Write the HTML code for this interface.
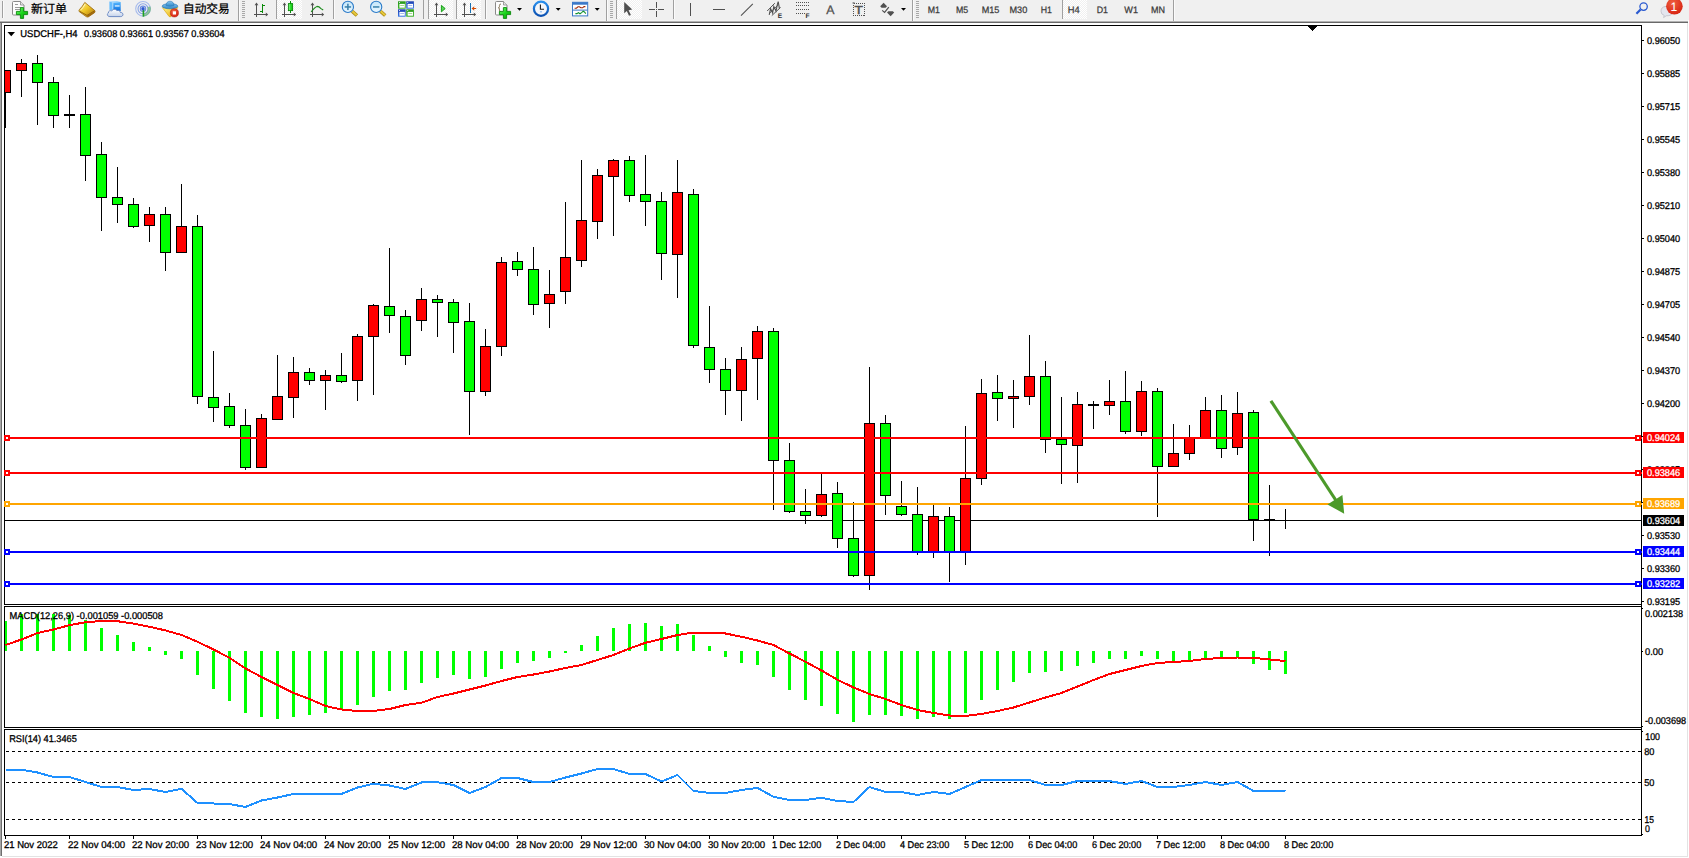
<!DOCTYPE html>
<html><head><meta charset="utf-8"><title>USDCHF-,H4</title>
<style>html,body{margin:0;padding:0;background:#fff;overflow:hidden}body{width:1689px;height:858px;position:relative}text{white-space:pre}</style>
</head><body>
<svg width="1689" height="858" viewBox="0 0 1689 858" font-family="'Liberation Sans','Noto Sans CJK SC',sans-serif" style="position:absolute;left:0;top:0;display:block;text-rendering:geometricPrecision">
<defs>
<linearGradient id="gPlus" x1="0" y1="0" x2="1" y2="1"><stop offset="0" stop-color="#7dff7d"/><stop offset="0.5" stop-color="#19d419"/><stop offset="1" stop-color="#0a9a0a"/></linearGradient>
<linearGradient id="gGold" x1="0" y1="0" x2="1" y2="1"><stop offset="0" stop-color="#fff1a0"/><stop offset="0.45" stop-color="#f0c828"/><stop offset="1" stop-color="#a86a08"/></linearGradient>
<linearGradient id="gBlue" x1="0" y1="0" x2="0" y2="1"><stop offset="0" stop-color="#58b8ff"/><stop offset="1" stop-color="#0a6fe0"/></linearGradient>
<linearGradient id="gCloud" x1="0" y1="0" x2="0" y2="1"><stop offset="0" stop-color="#ffffff"/><stop offset="1" stop-color="#c4d2ea"/></linearGradient>
<linearGradient id="gLens" x1="0" y1="0" x2="0" y2="1"><stop offset="0" stop-color="#c4e6fa"/><stop offset="1" stop-color="#eaf7ff"/></linearGradient>
<linearGradient id="gGreenT" x1="0" y1="0" x2="0" y2="1"><stop offset="0" stop-color="#2a9a1a"/><stop offset="1" stop-color="#3cb42a"/></linearGradient>
<linearGradient id="gBlueT" x1="0" y1="0" x2="0" y2="1"><stop offset="0" stop-color="#1c3fb0"/><stop offset="1" stop-color="#3a78e6"/></linearGradient>
<radialGradient id="gRed" cx="0.4" cy="0.3" r="0.8"><stop offset="0" stop-color="#f06040"/><stop offset="1" stop-color="#d41c0c"/></radialGradient>
<linearGradient id="gClock" x1="0" y1="0" x2="0" y2="1"><stop offset="0" stop-color="#2a90ee"/><stop offset="1" stop-color="#0a4fb0"/></linearGradient>
<linearGradient id="gCandle" x1="0" y1="0" x2="1" y2="0"><stop offset="0" stop-color="#9aff9a"/><stop offset="0.5" stop-color="#30e030"/><stop offset="1" stop-color="#10c010"/></linearGradient>
<linearGradient id="gHat" x1="0" y1="0" x2="0" y2="1"><stop offset="0" stop-color="#8cc8ee"/><stop offset="1" stop-color="#2a84c8"/></linearGradient>
<linearGradient id="gCone" x1="0" y1="0" x2="1" y2="1"><stop offset="0" stop-color="#fff48a"/><stop offset="1" stop-color="#e6a800"/></linearGradient>
<pattern id="pSel" width="2" height="2" patternUnits="userSpaceOnUse"><rect width="2" height="2" fill="#f0f0f0"/><rect width="1" height="1" fill="#fff"/><rect x="1" y="1" width="1" height="1" fill="#fff"/></pattern>
</defs>
<rect x="0" y="0" width="1689" height="858" fill="#fff"/>
<g id="toolbar">
<rect x="0" y="0" width="1689" height="20" fill="#f0f0f0"/>
<rect x="0" y="20" width="1688" height="1" fill="#f4f4f4"/>
<rect x="0" y="21" width="1688" height="1" fill="#b2b2b2"/>
<rect x="0" y="22" width="1688" height="1" fill="#696969"/>
<rect x="2" y="1" width="1" height="17" fill="#a0a0a0" shape-rendering="crispEdges"/><rect x="3" y="1" width="1" height="17" fill="#fbfbfb" shape-rendering="crispEdges"/>
<path d="M13.5,1.5h7.0l3.5,3.5v9.0q0,1 -1,1h-9.5q-1,0 -1,-1v-11.5q0,-1 1,-1z" fill="#fdfdfd" stroke="#8a8a8a" stroke-width="1"/><path d="M20.5,1.5v3.5h3.5" fill="#e4e4e4" stroke="#8a8a8a" stroke-width="0.8"/>
<g fill="#9a9a9a" shape-rendering="crispEdges"><rect x="15" y="4" width="3" height="1"/><rect x="15" y="7" width="6" height="1"/><rect x="15" y="9" width="5" height="1"/></g>
<path d="M20.4,7.6h3.2v3.8h4v3.2h-4v3.8h-3.2v-3.8h-4v-3.2h4z" fill="url(#gPlus)" stroke="#0a8a0a" stroke-width="0.9" stroke-linejoin="round"/>
<text x="31" y="13" font-size="12" fill="#000" stroke="#000" stroke-width="0.25">新订单</text>
<path d="M84.8,2.4 L94.8,10.6 Q95.4,11.6 94.6,12.6 L88.4,16.8 Q87.2,17.3 86.2,16.6 L79.2,11.6 Q78.6,10.6 79.4,9.6 Q82.4,6.6 84.8,2.4z" fill="url(#gGold)" stroke="#9a6608" stroke-width="0.8"/>
<path d="M79.6,11.2 L87,15.4 L94.6,10.8" fill="none" stroke="#8a5a08" stroke-width="0.9"/>
<path d="M87,15.6 L94.8,11.2 L94.6,12.8 L88,16.9z" fill="#a06a10"/>
<path d="M85.2,4 Q83.4,7.6 81,9.8" fill="none" stroke="#fff6c0" stroke-width="1"/>
<path d="M109.4,1.6 L112.9,2.4 L112.9,11 L109.4,9.8z" fill="#66bcff"/>
<path d="M112.9,2.4 L120.7,1.9 L120.7,11 L112.9,11z" fill="url(#gBlue)"/>
<path d="M109.4,1.6 L117,1.1 L120.7,1.9 L112.9,2.4z" fill="#9ad4ff"/>
<path d="M112.9,2.6 V11" stroke="#d8f0ff" stroke-width="0.7"/>
<rect x="114.8" y="5.3" width="4.8" height="1.3" fill="#e2f3ff"/>
<path d="M110,16.6 C107.4,16.6 106.6,14.2 108.3,13 C108.1,11 110.4,10.1 111.7,11 C112.5,9.1 115.7,8.7 116.9,10.6 C118.5,9.8 120.3,10.8 120.3,12.4 C122.5,12.4 123.5,14 122.7,15.4 C122.3,16.4 121.3,16.6 120.4,16.6 Z" fill="url(#gCloud)" stroke="#5f7fbe" stroke-width="0.9"/>
<g fill="none"><circle cx="143" cy="8.8" r="7.3" stroke="#a8bcec" stroke-width="1.1"/><circle cx="143" cy="8.8" r="5" stroke="#88a4e6" stroke-width="1.1"/><circle cx="143" cy="8.8" r="2.7" stroke="#6c8ce0" stroke-width="1.1"/></g>
<path d="M143,8.8 L143,16.4 A7.6,7.6 0 0 0 150.5,6.4 L147.6,7 A5.2,5.2 0 0 1 143.9,13.9z" fill="#4aac4e" opacity="0.55"/>
<rect x="142.6" y="9" width="1.6" height="7.6" fill="#1fa01f"/>
<circle cx="143" cy="8.8" r="1.7" fill="#2c58d0"/>
<path d="M162.4,7.6 L177.8,7.6 L171,16.6 Q170,17.2 169,16.4z" fill="url(#gCone)" stroke="#d8a000" stroke-width="0.6"/>
<ellipse cx="170" cy="6.2" rx="7.8" ry="2.6" fill="url(#gHat)" stroke="#2a78b8" stroke-width="0.7"/>
<path d="M166,5.6 Q166.4,1.2 170,1.2 Q173.6,1.2 174,5.6 Q170,7 166,5.6z" fill="url(#gHat)" stroke="#2a78b8" stroke-width="0.6"/>
<circle cx="174.4" cy="12.9" r="4.1" fill="url(#gRed)" stroke="#b01808" stroke-width="0.5"/><rect x="172.8" y="11.3" width="3.2" height="3.2" fill="#fff"/>
<text x="183" y="13" font-size="12" fill="#000" stroke="#000" stroke-width="0.25" textLength="46.6" lengthAdjust="spacingAndGlyphs">自动交易</text>
<rect x="238" y="0" width="1" height="21" fill="#a0a0a0" shape-rendering="crispEdges"/><rect x="239" y="0" width="1" height="21" fill="#fbfbfb" shape-rendering="crispEdges"/>
<rect x="242" y="1" width="3" height="1" fill="#a8a8a8" shape-rendering="crispEdges"/><rect x="242" y="3" width="3" height="1" fill="#a8a8a8" shape-rendering="crispEdges"/><rect x="242" y="5" width="3" height="1" fill="#a8a8a8" shape-rendering="crispEdges"/><rect x="242" y="7" width="3" height="1" fill="#a8a8a8" shape-rendering="crispEdges"/><rect x="242" y="9" width="3" height="1" fill="#a8a8a8" shape-rendering="crispEdges"/><rect x="242" y="11" width="3" height="1" fill="#a8a8a8" shape-rendering="crispEdges"/><rect x="242" y="13" width="3" height="1" fill="#a8a8a8" shape-rendering="crispEdges"/><rect x="242" y="15" width="3" height="1" fill="#a8a8a8" shape-rendering="crispEdges"/><rect x="242" y="17" width="3" height="1" fill="#a8a8a8" shape-rendering="crispEdges"/>
<g fill="#505050" shape-rendering="crispEdges"><rect x="256" y="4" width="1" height="13"/><rect x="254" y="14" width="13" height="1"/></g><polygon points="256.5,2.6 254.6,5.2 258.4,5.2" fill="#505050"/><polygon points="268.2,14.5 265.8,12.6 265.8,16.4" fill="#505050"/>
<g fill="#0a8a0a" shape-rendering="crispEdges"><rect x="262" y="4" width="1" height="9"/><rect x="263" y="5" width="2" height="1"/><rect x="260" y="11" width="2" height="1"/></g>
<rect x="276" y="0" width="1" height="19" fill="#a0a0a0" shape-rendering="crispEdges"/>
<rect x="277" y="0" width="25" height="19" fill="url(#pSel)" shape-rendering="crispEdges"/>
<g fill="#505050" shape-rendering="crispEdges"><rect x="284" y="4" width="1" height="13"/><rect x="282" y="14" width="13" height="1"/></g><polygon points="284.5,2.6 282.6,5.2 286.4,5.2" fill="#505050"/><polygon points="296.2,14.5 293.8,12.6 293.8,16.4" fill="#505050"/>
<rect x="290" y="1.4" width="1" height="11.2" fill="#0a8a0a" shape-rendering="crispEdges"/><rect x="288.4" y="3.6" width="4.2" height="7" fill="url(#gCandle)" stroke="#0a8a0a" stroke-width="0.9"/>
<g fill="#505050" shape-rendering="crispEdges"><rect x="312" y="4" width="1" height="13"/><rect x="310" y="14" width="13" height="1"/></g><polygon points="312.5,2.6 310.6,5.2 314.4,5.2" fill="#505050"/><polygon points="324.2,14.5 321.8,12.6 321.8,16.4" fill="#505050"/>
<path d="M311.2,11.8 Q314.6,7.2 317,6.4 Q319,6.4 321,8.6 L323.2,10" fill="none" stroke="#1a8a1a" stroke-width="1.1"/>
<rect x="333" y="0" width="1" height="19" fill="#a0a0a0" shape-rendering="crispEdges"/><rect x="334" y="0" width="1" height="19" fill="#fbfbfb" shape-rendering="crispEdges"/>
<line x1="352.09999999999997" y1="11.2" x2="356.9" y2="15.6" stroke="#a88410" stroke-width="3.4"/><line x1="352.09999999999997" y1="11" x2="356.7" y2="15.2" stroke="#e6c83a" stroke-width="2"/>
<circle cx="347.9" cy="6.9" r="5.6" fill="url(#gLens)" stroke="#2a7ac8" stroke-width="1.1"/>
<rect x="344.7" y="6.2" width="6.4" height="1.5" fill="#3a80aa"/>
<rect x="347.15" y="3.7" width="1.5" height="6.4" fill="#3a80aa"/>
<line x1="380.4" y1="11.2" x2="385.2" y2="15.6" stroke="#a88410" stroke-width="3.4"/><line x1="380.4" y1="11" x2="385.0" y2="15.2" stroke="#e6c83a" stroke-width="2"/>
<circle cx="376.2" cy="6.9" r="5.6" fill="url(#gLens)" stroke="#2a7ac8" stroke-width="1.1"/>
<rect x="373.0" y="6.2" width="6.4" height="1.5" fill="#3a80aa"/>
<rect x="398" y="1.3" width="7.7" height="7.4" fill="url(#gGreenT)"/><rect x="399.4" y="3.9000000000000004" width="5.4" height="3.8" fill="#fff"/><rect x="400.2" y="5.1" width="3.8" height="0.9" fill="#9ad48a"/><rect x="399" y="2.1" width="1" height="0.9" fill="#dfe8ff"/>
<rect x="406.2" y="1.3" width="7.7" height="7.4" fill="url(#gBlueT)"/><rect x="407.59999999999997" y="3.9000000000000004" width="5.4" height="3.8" fill="#fff"/><rect x="408.4" y="5.1" width="3.8" height="0.9" fill="#9ab4ee"/><rect x="407.2" y="2.1" width="1" height="0.9" fill="#dfe8ff"/>
<rect x="398" y="9.3" width="7.7" height="7.4" fill="url(#gBlueT)"/><rect x="399.4" y="11.9" width="5.4" height="3.8" fill="#fff"/><rect x="400.2" y="13.100000000000001" width="3.8" height="0.9" fill="#9ab4ee"/><rect x="399" y="10.100000000000001" width="1" height="0.9" fill="#dfe8ff"/>
<rect x="406.2" y="9.3" width="7.7" height="7.4" fill="url(#gGreenT)"/><rect x="407.59999999999997" y="11.9" width="5.4" height="3.8" fill="#fff"/><rect x="408.4" y="13.100000000000001" width="3.8" height="0.9" fill="#9ad48a"/><rect x="407.2" y="10.100000000000001" width="1" height="0.9" fill="#dfe8ff"/>
<rect x="423" y="0" width="1" height="19" fill="#a0a0a0" shape-rendering="crispEdges"/>
<rect x="428" y="0" width="1" height="19" fill="#a0a0a0" shape-rendering="crispEdges"/>
<rect x="429" y="0" width="24" height="19" fill="url(#pSel)" shape-rendering="crispEdges"/>
<g fill="#505050" shape-rendering="crispEdges"><rect x="436" y="4" width="1" height="13"/><rect x="434" y="14" width="13" height="1"/></g><polygon points="436.5,2.6 434.6,5.2 438.4,5.2" fill="#505050"/><polygon points="448.2,14.5 445.8,12.6 445.8,16.4" fill="#505050"/>
<polygon points="441.4,5.4 441.4,11.8 445.2,8.6" fill="#5ad45a" stroke="#0a9a0a" stroke-width="0.9"/>
<rect x="456" y="0" width="1" height="19" fill="#a0a0a0" shape-rendering="crispEdges"/>
<rect x="457" y="0" width="24" height="19" fill="url(#pSel)" shape-rendering="crispEdges"/>
<g fill="#505050" shape-rendering="crispEdges"><rect x="464" y="4" width="1" height="13"/><rect x="462" y="14" width="13" height="1"/></g><polygon points="464.5,2.6 462.6,5.2 466.4,5.2" fill="#505050"/><polygon points="476.2,14.5 473.8,12.6 473.8,16.4" fill="#505050"/>
<rect x="470" y="3" width="1" height="10" fill="#1870b0" shape-rendering="crispEdges"/>
<path d="M471.6,8.5 L474.4,6.2 L474,8 L476.2,8 L476.2,9 L474,9 L474.4,10.8z" fill="#d84a00"/>
<rect x="485" y="0" width="1" height="19" fill="#a0a0a0" shape-rendering="crispEdges"/><rect x="486" y="0" width="1" height="19" fill="#fbfbfb" shape-rendering="crispEdges"/>
<path d="M496.5,1.5h7.0l3.5,3.5v9.0q0,1 -1,1h-9.5q-1,0 -1,-1v-11.5q0,-1 1,-1z" fill="#fdfdfd" stroke="#8a8a8a" stroke-width="1"/><path d="M503.5,1.5v3.5h3.5" fill="#e4e4e4" stroke="#8a8a8a" stroke-width="0.8"/>
<path d="M501,4 q-1.6,0 -1.6,1.6 v1.2 q0,1 -1,1 q1,0 1,1 v1.4 q0,1.4 1.6,1.4" fill="none" stroke="#7a6a4a" stroke-width="0.9"/>
<path d="M503.4,7.6h3.2v3.8h4v3.2h-4v3.8h-3.2v-3.8h-4v-3.2h4z" fill="url(#gPlus)" stroke="#0a8a0a" stroke-width="0.9" stroke-linejoin="round"/>
<polygon points="517,8 522,8 519.5,10.8" fill="#000"/>
<circle cx="541" cy="8.8" r="7.1" fill="#f4f6fa" stroke="url(#gClock)" stroke-width="2.2"/>
<path d="M540.4,4.6 V9.2 H544" fill="none" stroke="#202020" stroke-width="1.1"/><rect x="540" y="11.4" width="2" height="0.9" fill="#6aa8ee"/>
<polygon points="555.7,8 560.7,8 558.2,10.8" fill="#000"/>
<rect x="572.5" y="2.3" width="15.2" height="13.6" fill="#fff" stroke="#3a78c8" stroke-width="1"/><rect x="572.5" y="2.3" width="15.2" height="2.4" fill="#3a78c8"/><rect x="573" y="9.6" width="14.4" height="1" fill="#3a78c8"/>
<path d="M574.6,8.2 h1.8 l1.6,-1.4 h1.4 l1.4,1 h1.8 l1.4,-1.2 h1.4" fill="none" stroke="#a02808" stroke-width="1.1"/>
<path d="M575.4,13.6 h1.6 l1.4,-1 l1.6,1.2 l1.6,-1.2 l1.6,-1.4 l1.2,0.8 l1.4,1.6" fill="none" stroke="#10902a" stroke-width="1.1"/>
<polygon points="594.7,8 599.7,8 597.2,10.8" fill="#000"/>
<rect x="606" y="0" width="1" height="21" fill="#a0a0a0" shape-rendering="crispEdges"/><rect x="607" y="0" width="1" height="21" fill="#fbfbfb" shape-rendering="crispEdges"/>
<rect x="610" y="1" width="3" height="1" fill="#a8a8a8" shape-rendering="crispEdges"/><rect x="610" y="3" width="3" height="1" fill="#a8a8a8" shape-rendering="crispEdges"/><rect x="610" y="5" width="3" height="1" fill="#a8a8a8" shape-rendering="crispEdges"/><rect x="610" y="7" width="3" height="1" fill="#a8a8a8" shape-rendering="crispEdges"/><rect x="610" y="9" width="3" height="1" fill="#a8a8a8" shape-rendering="crispEdges"/><rect x="610" y="11" width="3" height="1" fill="#a8a8a8" shape-rendering="crispEdges"/><rect x="610" y="13" width="3" height="1" fill="#a8a8a8" shape-rendering="crispEdges"/><rect x="610" y="15" width="3" height="1" fill="#a8a8a8" shape-rendering="crispEdges"/><rect x="610" y="17" width="3" height="1" fill="#a8a8a8" shape-rendering="crispEdges"/>
<rect x="616" y="0" width="1" height="19" fill="#a0a0a0" shape-rendering="crispEdges"/>
<rect x="617" y="0" width="25" height="19" fill="url(#pSel)" shape-rendering="crispEdges"/>
<polygon points="624.2,1.9 624.2,13.2 626.8,11 629,15.8 630.9,14.9 628.6,10.3 632.2,9.5" fill="#505050"/>
<g fill="#505050" shape-rendering="crispEdges"><rect x="656" y="2" width="1" height="6"/><rect x="656" y="11" width="1" height="6"/><rect x="649" y="9" width="6" height="1"/><rect x="658" y="9" width="6" height="1"/><rect x="656" y="9" width="1" height="1"/></g>
<rect x="673" y="0" width="1" height="19" fill="#a0a0a0" shape-rendering="crispEdges"/><rect x="674" y="0" width="1" height="19" fill="#fbfbfb" shape-rendering="crispEdges"/>
<g fill="#505050" shape-rendering="crispEdges"><rect x="690" y="3" width="1" height="13"/><rect x="713" y="9" width="12" height="1"/></g>
<line x1="741" y1="15.7" x2="752.8" y2="3.8" stroke="#505050" stroke-width="1.05"/>
<g stroke="#505050" stroke-width="1" fill="none"><line x1="767.2" y1="11" x2="774.8" y2="3.2"/><line x1="771.8" y1="15.6" x2="780.6" y2="7.4"/><path d="M769.2,14.8 L770.6,8.6 L772.6,13 L773.8,6.4 L776,11 L777.4,4.4 L778.2,1.6 L779.4,8.4" stroke-width="1.1"/><line x1="769.6" y1="13.2" x2="777.8" y2="5.2" stroke-width="0.9"/></g>
<text x="777.8" y="17.9" font-size="6.6" font-weight="bold" fill="#303030">E</text>
<line x1="796" y1="2.5" x2="810" y2="2.5" stroke="#505050" stroke-width="1" stroke-dasharray="1 1" shape-rendering="crispEdges"/>
<line x1="796" y1="5.5" x2="810" y2="5.5" stroke="#505050" stroke-width="1" stroke-dasharray="1 1" shape-rendering="crispEdges"/>
<line x1="796" y1="9.5" x2="810" y2="9.5" stroke="#505050" stroke-width="1" stroke-dasharray="1 1" shape-rendering="crispEdges"/>
<line x1="796" y1="13.5" x2="805" y2="13.5" stroke="#505050" stroke-width="1" stroke-dasharray="1 1" shape-rendering="crispEdges"/>
<text x="805.6" y="17.9" font-size="6.6" font-weight="bold" fill="#303030">F</text>
<text x="826.2" y="13.8" font-size="12.3" fill="#505050" stroke="#505050" stroke-width="0.3">A</text>
<rect x="853.5" y="3.5" width="11" height="12" fill="none" stroke="#505050" stroke-width="1" stroke-dasharray="1 1" shape-rendering="crispEdges"/>
<rect x="852.6" y="2.4" width="2" height="1.2" fill="#505050"/>
<text x="854.6" y="13.8" font-size="11.6" fill="#505050" stroke="#505050" stroke-width="0.45" textLength="8.4" lengthAdjust="spacingAndGlyphs">T</text>
<polygon points="883.6,2.8 887,6.2 885.6,7.8 881.6,7.8 880.2,6.2" fill="#505050"/>
<polygon points="890.6,16.2 894.2,12.6 892.8,11.2 888.4,11.2 887,12.6" fill="#505050"/>
<path d="M882.2,10.4 L884.6,12.4 L888.8,7.2" fill="none" stroke="#505050" stroke-width="1.2"/>
<polygon points="901,8 906,8 903.5,10.8" fill="#000"/>
<rect x="912" y="0" width="1" height="21" fill="#a0a0a0" shape-rendering="crispEdges"/><rect x="913" y="0" width="1" height="21" fill="#fbfbfb" shape-rendering="crispEdges"/>
<rect x="916" y="1" width="3" height="1" fill="#a8a8a8" shape-rendering="crispEdges"/><rect x="916" y="3" width="3" height="1" fill="#a8a8a8" shape-rendering="crispEdges"/><rect x="916" y="5" width="3" height="1" fill="#a8a8a8" shape-rendering="crispEdges"/><rect x="916" y="7" width="3" height="1" fill="#a8a8a8" shape-rendering="crispEdges"/><rect x="916" y="9" width="3" height="1" fill="#a8a8a8" shape-rendering="crispEdges"/><rect x="916" y="11" width="3" height="1" fill="#a8a8a8" shape-rendering="crispEdges"/><rect x="916" y="13" width="3" height="1" fill="#a8a8a8" shape-rendering="crispEdges"/><rect x="916" y="15" width="3" height="1" fill="#a8a8a8" shape-rendering="crispEdges"/><rect x="916" y="17" width="3" height="1" fill="#a8a8a8" shape-rendering="crispEdges"/>
<rect x="1062" y="0" width="1" height="19" fill="#a0a0a0" shape-rendering="crispEdges"/>
<rect x="1063" y="0" width="24" height="19" fill="url(#pSel)" shape-rendering="crispEdges"/>
<text x="927.8" y="12.8" font-size="9.3" fill="#3c3c3c" stroke="#3c3c3c" stroke-width="0.25" textLength="12.2" lengthAdjust="spacingAndGlyphs">M1</text>
<text x="956" y="12.8" font-size="9.3" fill="#3c3c3c" stroke="#3c3c3c" stroke-width="0.25" textLength="12.2" lengthAdjust="spacingAndGlyphs">M5</text>
<text x="981.7" y="12.8" font-size="9.3" fill="#3c3c3c" stroke="#3c3c3c" stroke-width="0.25" textLength="17.7" lengthAdjust="spacingAndGlyphs">M15</text>
<text x="1009.5" y="12.8" font-size="9.3" fill="#3c3c3c" stroke="#3c3c3c" stroke-width="0.25" textLength="17.8" lengthAdjust="spacingAndGlyphs">M30</text>
<text x="1040.8" y="12.8" font-size="9.3" fill="#3c3c3c" stroke="#3c3c3c" stroke-width="0.25" textLength="11.2" lengthAdjust="spacingAndGlyphs">H1</text>
<text x="1067.8" y="12.8" font-size="9.3" fill="#3c3c3c" stroke="#3c3c3c" stroke-width="0.25" textLength="11.9" lengthAdjust="spacingAndGlyphs">H4</text>
<text x="1096.7" y="12.8" font-size="9.3" fill="#3c3c3c" stroke="#3c3c3c" stroke-width="0.25" textLength="11.3" lengthAdjust="spacingAndGlyphs">D1</text>
<text x="1124.3" y="12.8" font-size="9.3" fill="#3c3c3c" stroke="#3c3c3c" stroke-width="0.25" textLength="13.7" lengthAdjust="spacingAndGlyphs">W1</text>
<text x="1151" y="12.8" font-size="9.3" fill="#3c3c3c" stroke="#3c3c3c" stroke-width="0.25" textLength="14" lengthAdjust="spacingAndGlyphs">MN</text>
<rect x="1173" y="0" width="1" height="21" fill="#a0a0a0" shape-rendering="crispEdges"/><rect x="1174" y="0" width="1" height="21" fill="#fbfbfb" shape-rendering="crispEdges"/>
<line x1="1640.6" y1="9.4" x2="1636.4" y2="13.8" stroke="#2a5ad0" stroke-width="2.2"/><circle cx="1643.6" cy="6.6" r="3.7" fill="#f0f0f0" stroke="#2a5ad0" stroke-width="1.3"/>
<path d="M1666,6.4 q-5,0.4 -5,4.8 q0,3.2 3.2,4.2 l-0.6,2.2 l2.6,-1.8 q5.6,0.2 6.4,-3.6z" fill="#e4e6ee" stroke="#b8b8c0" stroke-width="0.7"/>
<circle cx="1674.4" cy="6.3" r="8.3" fill="url(#gRed)"/>
<text x="1670.6" y="11" font-size="12.2" fill="#fff">1</text>
</g>
<rect x="0" y="23" width="1" height="833" fill="#a6a6a6"/>
<rect x="1" y="23" width="1" height="833" fill="#6e6e6e"/>
<rect x="1687" y="23" width="1" height="833" fill="#e3e3e3"/>
<rect x="2" y="856" width="1686" height="1" fill="#e3e3e3"/>
<g id="chart" shape-rendering="crispEdges">
<rect x="4" y="25" width="1638" height="1" fill="#000"/>
<rect x="4" y="25" width="1" height="580" fill="#000"/>
<rect x="4" y="604" width="1638" height="1" fill="#000"/>
<rect x="4" y="606" width="1638" height="1" fill="#000"/>
<rect x="4" y="606" width="1" height="122" fill="#000"/>
<rect x="4" y="727" width="1638" height="1" fill="#000"/>
<rect x="4" y="729" width="1638" height="1" fill="#000"/>
<rect x="4" y="729" width="1" height="107" fill="#000"/>
<rect x="4" y="835" width="1638" height="1" fill="#000"/>
<rect x="1641" y="25" width="1" height="811" fill="#000"/>
<rect x="1308" y="26" width="9" height="1" fill="#000"/>
<rect x="1309" y="27" width="7" height="1" fill="#000"/>
<rect x="1310" y="28" width="5" height="1" fill="#000"/>
<rect x="1311" y="29" width="3" height="1" fill="#000"/>
<rect x="1312" y="30" width="1" height="1" fill="#000"/>
<rect x="5" y="520" width="1636" height="1" fill="#000"/>
<clipPath id="cm"><rect x="5" y="26" width="1636" height="578"/></clipPath>
<g clip-path="url(#cm)">
<rect x="5" y="70" width="1" height="58" fill="#000"/>
<rect x="0" y="70" width="11" height="23" fill="#000"/>
<rect x="1" y="71" width="9" height="21" fill="#ff0000"/>
<rect x="21" y="59" width="1" height="38" fill="#000"/>
<rect x="16" y="63" width="11" height="8" fill="#000"/>
<rect x="17" y="64" width="9" height="6" fill="#ff0000"/>
<rect x="37" y="55" width="1" height="70" fill="#000"/>
<rect x="32" y="63" width="11" height="20" fill="#000"/>
<rect x="33" y="64" width="9" height="18" fill="#00ff00"/>
<rect x="53" y="77" width="1" height="51" fill="#000"/>
<rect x="48" y="82" width="11" height="34" fill="#000"/>
<rect x="49" y="83" width="9" height="32" fill="#00ff00"/>
<rect x="69" y="95" width="1" height="33" fill="#000"/>
<rect x="64" y="114" width="11" height="2" fill="#000"/>
<rect x="85" y="87" width="1" height="94" fill="#000"/>
<rect x="80" y="114" width="11" height="42" fill="#000"/>
<rect x="81" y="115" width="9" height="40" fill="#00ff00"/>
<rect x="101" y="142" width="1" height="89" fill="#000"/>
<rect x="96" y="154" width="11" height="44" fill="#000"/>
<rect x="97" y="155" width="9" height="42" fill="#00ff00"/>
<rect x="117" y="167" width="1" height="56" fill="#000"/>
<rect x="112" y="197" width="11" height="8" fill="#000"/>
<rect x="113" y="198" width="9" height="6" fill="#00ff00"/>
<rect x="133" y="198" width="1" height="30" fill="#000"/>
<rect x="128" y="204" width="11" height="23" fill="#000"/>
<rect x="129" y="205" width="9" height="21" fill="#00ff00"/>
<rect x="149" y="207" width="1" height="35" fill="#000"/>
<rect x="144" y="214" width="11" height="12" fill="#000"/>
<rect x="145" y="215" width="9" height="10" fill="#ff0000"/>
<rect x="165" y="207" width="1" height="64" fill="#000"/>
<rect x="160" y="214" width="11" height="39" fill="#000"/>
<rect x="161" y="215" width="9" height="37" fill="#00ff00"/>
<rect x="181" y="184" width="1" height="69" fill="#000"/>
<rect x="176" y="226" width="11" height="27" fill="#000"/>
<rect x="177" y="227" width="9" height="25" fill="#ff0000"/>
<rect x="197" y="215" width="1" height="189" fill="#000"/>
<rect x="192" y="226" width="11" height="171" fill="#000"/>
<rect x="193" y="227" width="9" height="169" fill="#00ff00"/>
<rect x="213" y="351" width="1" height="71" fill="#000"/>
<rect x="208" y="397" width="11" height="11" fill="#000"/>
<rect x="209" y="398" width="9" height="9" fill="#00ff00"/>
<rect x="229" y="393" width="1" height="35" fill="#000"/>
<rect x="224" y="406" width="11" height="20" fill="#000"/>
<rect x="225" y="407" width="9" height="18" fill="#00ff00"/>
<rect x="245" y="409" width="1" height="61" fill="#000"/>
<rect x="240" y="425" width="11" height="43" fill="#000"/>
<rect x="241" y="426" width="9" height="41" fill="#00ff00"/>
<rect x="261" y="414" width="1" height="54" fill="#000"/>
<rect x="256" y="418" width="11" height="50" fill="#000"/>
<rect x="257" y="419" width="9" height="48" fill="#ff0000"/>
<rect x="277" y="355" width="1" height="65" fill="#000"/>
<rect x="272" y="396" width="11" height="24" fill="#000"/>
<rect x="273" y="397" width="9" height="22" fill="#ff0000"/>
<rect x="293" y="357" width="1" height="61" fill="#000"/>
<rect x="288" y="372" width="11" height="26" fill="#000"/>
<rect x="289" y="373" width="9" height="24" fill="#ff0000"/>
<rect x="309" y="368" width="1" height="17" fill="#000"/>
<rect x="304" y="372" width="11" height="9" fill="#000"/>
<rect x="305" y="373" width="9" height="7" fill="#00ff00"/>
<rect x="325" y="370" width="1" height="40" fill="#000"/>
<rect x="320" y="375" width="11" height="6" fill="#000"/>
<rect x="321" y="376" width="9" height="4" fill="#ff0000"/>
<rect x="341" y="353" width="1" height="30" fill="#000"/>
<rect x="336" y="375" width="11" height="7" fill="#000"/>
<rect x="337" y="376" width="9" height="5" fill="#00ff00"/>
<rect x="357" y="334" width="1" height="67" fill="#000"/>
<rect x="352" y="336" width="11" height="45" fill="#000"/>
<rect x="353" y="337" width="9" height="43" fill="#ff0000"/>
<rect x="373" y="304" width="1" height="91" fill="#000"/>
<rect x="368" y="305" width="11" height="32" fill="#000"/>
<rect x="369" y="306" width="9" height="30" fill="#ff0000"/>
<rect x="389" y="248" width="1" height="85" fill="#000"/>
<rect x="384" y="306" width="11" height="10" fill="#000"/>
<rect x="385" y="307" width="9" height="8" fill="#00ff00"/>
<rect x="405" y="310" width="1" height="55" fill="#000"/>
<rect x="400" y="316" width="11" height="40" fill="#000"/>
<rect x="401" y="317" width="9" height="38" fill="#00ff00"/>
<rect x="421" y="288" width="1" height="43" fill="#000"/>
<rect x="416" y="299" width="11" height="22" fill="#000"/>
<rect x="417" y="300" width="9" height="20" fill="#ff0000"/>
<rect x="437" y="295" width="1" height="42" fill="#000"/>
<rect x="432" y="299" width="11" height="4" fill="#000"/>
<rect x="433" y="300" width="9" height="2" fill="#00ff00"/>
<rect x="453" y="299" width="1" height="54" fill="#000"/>
<rect x="448" y="302" width="11" height="21" fill="#000"/>
<rect x="449" y="303" width="9" height="19" fill="#00ff00"/>
<rect x="469" y="303" width="1" height="132" fill="#000"/>
<rect x="464" y="321" width="11" height="71" fill="#000"/>
<rect x="465" y="322" width="9" height="69" fill="#00ff00"/>
<rect x="485" y="329" width="1" height="67" fill="#000"/>
<rect x="480" y="346" width="11" height="46" fill="#000"/>
<rect x="481" y="347" width="9" height="44" fill="#ff0000"/>
<rect x="501" y="257" width="1" height="99" fill="#000"/>
<rect x="496" y="262" width="11" height="85" fill="#000"/>
<rect x="497" y="263" width="9" height="83" fill="#ff0000"/>
<rect x="517" y="252" width="1" height="24" fill="#000"/>
<rect x="512" y="261" width="11" height="9" fill="#000"/>
<rect x="513" y="262" width="9" height="7" fill="#00ff00"/>
<rect x="533" y="247" width="1" height="68" fill="#000"/>
<rect x="528" y="269" width="11" height="36" fill="#000"/>
<rect x="529" y="270" width="9" height="34" fill="#00ff00"/>
<rect x="549" y="270" width="1" height="58" fill="#000"/>
<rect x="544" y="294" width="11" height="10" fill="#000"/>
<rect x="545" y="295" width="9" height="8" fill="#ff0000"/>
<rect x="565" y="202" width="1" height="102" fill="#000"/>
<rect x="560" y="257" width="11" height="35" fill="#000"/>
<rect x="561" y="258" width="9" height="33" fill="#ff0000"/>
<rect x="581" y="160" width="1" height="107" fill="#000"/>
<rect x="576" y="220" width="11" height="41" fill="#000"/>
<rect x="577" y="221" width="9" height="39" fill="#ff0000"/>
<rect x="597" y="169" width="1" height="70" fill="#000"/>
<rect x="592" y="175" width="11" height="47" fill="#000"/>
<rect x="593" y="176" width="9" height="45" fill="#ff0000"/>
<rect x="613" y="159" width="1" height="77" fill="#000"/>
<rect x="608" y="160" width="11" height="17" fill="#000"/>
<rect x="609" y="161" width="9" height="15" fill="#ff0000"/>
<rect x="629" y="156" width="1" height="46" fill="#000"/>
<rect x="624" y="160" width="11" height="36" fill="#000"/>
<rect x="625" y="161" width="9" height="34" fill="#00ff00"/>
<rect x="645" y="155" width="1" height="71" fill="#000"/>
<rect x="640" y="194" width="11" height="8" fill="#000"/>
<rect x="641" y="195" width="9" height="6" fill="#00ff00"/>
<rect x="661" y="192" width="1" height="88" fill="#000"/>
<rect x="656" y="201" width="11" height="53" fill="#000"/>
<rect x="657" y="202" width="9" height="51" fill="#00ff00"/>
<rect x="677" y="160" width="1" height="138" fill="#000"/>
<rect x="672" y="192" width="11" height="63" fill="#000"/>
<rect x="673" y="193" width="9" height="61" fill="#ff0000"/>
<rect x="693" y="189" width="1" height="159" fill="#000"/>
<rect x="688" y="194" width="11" height="152" fill="#000"/>
<rect x="689" y="195" width="9" height="150" fill="#00ff00"/>
<rect x="709" y="306" width="1" height="77" fill="#000"/>
<rect x="704" y="347" width="11" height="23" fill="#000"/>
<rect x="705" y="348" width="9" height="21" fill="#00ff00"/>
<rect x="725" y="358" width="1" height="57" fill="#000"/>
<rect x="720" y="369" width="11" height="22" fill="#000"/>
<rect x="721" y="370" width="9" height="20" fill="#00ff00"/>
<rect x="741" y="347" width="1" height="74" fill="#000"/>
<rect x="736" y="359" width="11" height="32" fill="#000"/>
<rect x="737" y="360" width="9" height="30" fill="#ff0000"/>
<rect x="757" y="326" width="1" height="74" fill="#000"/>
<rect x="752" y="331" width="11" height="28" fill="#000"/>
<rect x="753" y="332" width="9" height="26" fill="#ff0000"/>
<rect x="773" y="328" width="1" height="182" fill="#000"/>
<rect x="768" y="331" width="11" height="130" fill="#000"/>
<rect x="769" y="332" width="9" height="128" fill="#00ff00"/>
<rect x="789" y="443" width="1" height="70" fill="#000"/>
<rect x="784" y="460" width="11" height="52" fill="#000"/>
<rect x="785" y="461" width="9" height="50" fill="#00ff00"/>
<rect x="805" y="489" width="1" height="35" fill="#000"/>
<rect x="800" y="511" width="11" height="5" fill="#000"/>
<rect x="801" y="512" width="9" height="3" fill="#00ff00"/>
<rect x="821" y="474" width="1" height="43" fill="#000"/>
<rect x="816" y="494" width="11" height="22" fill="#000"/>
<rect x="817" y="495" width="9" height="20" fill="#ff0000"/>
<rect x="837" y="482" width="1" height="66" fill="#000"/>
<rect x="832" y="493" width="11" height="46" fill="#000"/>
<rect x="833" y="494" width="9" height="44" fill="#00ff00"/>
<rect x="853" y="502" width="1" height="75" fill="#000"/>
<rect x="848" y="538" width="11" height="38" fill="#000"/>
<rect x="849" y="539" width="9" height="36" fill="#00ff00"/>
<rect x="869" y="367" width="1" height="223" fill="#000"/>
<rect x="864" y="423" width="11" height="153" fill="#000"/>
<rect x="865" y="424" width="9" height="151" fill="#ff0000"/>
<rect x="885" y="415" width="1" height="100" fill="#000"/>
<rect x="880" y="423" width="11" height="73" fill="#000"/>
<rect x="881" y="424" width="9" height="71" fill="#00ff00"/>
<rect x="901" y="481" width="1" height="35" fill="#000"/>
<rect x="896" y="506" width="11" height="9" fill="#000"/>
<rect x="897" y="507" width="9" height="7" fill="#00ff00"/>
<rect x="917" y="487" width="1" height="68" fill="#000"/>
<rect x="912" y="514" width="11" height="38" fill="#000"/>
<rect x="913" y="515" width="9" height="36" fill="#00ff00"/>
<rect x="933" y="505" width="1" height="53" fill="#000"/>
<rect x="928" y="516" width="11" height="36" fill="#000"/>
<rect x="929" y="517" width="9" height="34" fill="#ff0000"/>
<rect x="949" y="507" width="1" height="75" fill="#000"/>
<rect x="944" y="516" width="11" height="36" fill="#000"/>
<rect x="945" y="517" width="9" height="34" fill="#00ff00"/>
<rect x="965" y="426" width="1" height="139" fill="#000"/>
<rect x="960" y="478" width="11" height="74" fill="#000"/>
<rect x="961" y="479" width="9" height="72" fill="#ff0000"/>
<rect x="981" y="379" width="1" height="106" fill="#000"/>
<rect x="976" y="393" width="11" height="86" fill="#000"/>
<rect x="977" y="394" width="9" height="84" fill="#ff0000"/>
<rect x="997" y="375" width="1" height="46" fill="#000"/>
<rect x="992" y="392" width="11" height="7" fill="#000"/>
<rect x="993" y="393" width="9" height="5" fill="#00ff00"/>
<rect x="1013" y="380" width="1" height="48" fill="#000"/>
<rect x="1008" y="396" width="11" height="3" fill="#000"/>
<rect x="1009" y="397" width="9" height="1" fill="#ff0000"/>
<rect x="1029" y="335" width="1" height="70" fill="#000"/>
<rect x="1024" y="376" width="11" height="21" fill="#000"/>
<rect x="1025" y="377" width="9" height="19" fill="#ff0000"/>
<rect x="1045" y="361" width="1" height="92" fill="#000"/>
<rect x="1040" y="376" width="11" height="64" fill="#000"/>
<rect x="1041" y="377" width="9" height="62" fill="#00ff00"/>
<rect x="1061" y="397" width="1" height="87" fill="#000"/>
<rect x="1056" y="439" width="11" height="6" fill="#000"/>
<rect x="1057" y="440" width="9" height="4" fill="#00ff00"/>
<rect x="1077" y="392" width="1" height="91" fill="#000"/>
<rect x="1072" y="404" width="11" height="42" fill="#000"/>
<rect x="1073" y="405" width="9" height="40" fill="#ff0000"/>
<rect x="1093" y="401" width="1" height="28" fill="#000"/>
<rect x="1088" y="404" width="11" height="2" fill="#000"/>
<rect x="1109" y="380" width="1" height="35" fill="#000"/>
<rect x="1104" y="401" width="11" height="5" fill="#000"/>
<rect x="1105" y="402" width="9" height="3" fill="#ff0000"/>
<rect x="1125" y="371" width="1" height="63" fill="#000"/>
<rect x="1120" y="401" width="11" height="31" fill="#000"/>
<rect x="1121" y="402" width="9" height="29" fill="#00ff00"/>
<rect x="1141" y="381" width="1" height="55" fill="#000"/>
<rect x="1136" y="391" width="11" height="41" fill="#000"/>
<rect x="1137" y="392" width="9" height="39" fill="#ff0000"/>
<rect x="1157" y="388" width="1" height="129" fill="#000"/>
<rect x="1152" y="391" width="11" height="76" fill="#000"/>
<rect x="1153" y="392" width="9" height="74" fill="#00ff00"/>
<rect x="1173" y="424" width="1" height="43" fill="#000"/>
<rect x="1168" y="453" width="11" height="14" fill="#000"/>
<rect x="1169" y="454" width="9" height="12" fill="#ff0000"/>
<rect x="1189" y="425" width="1" height="35" fill="#000"/>
<rect x="1184" y="437" width="11" height="17" fill="#000"/>
<rect x="1185" y="438" width="9" height="15" fill="#ff0000"/>
<rect x="1205" y="397" width="1" height="42" fill="#000"/>
<rect x="1200" y="410" width="11" height="29" fill="#000"/>
<rect x="1201" y="411" width="9" height="27" fill="#ff0000"/>
<rect x="1221" y="395" width="1" height="63" fill="#000"/>
<rect x="1216" y="410" width="11" height="39" fill="#000"/>
<rect x="1217" y="411" width="9" height="37" fill="#00ff00"/>
<rect x="1237" y="392" width="1" height="63" fill="#000"/>
<rect x="1232" y="413" width="11" height="35" fill="#000"/>
<rect x="1233" y="414" width="9" height="33" fill="#ff0000"/>
<rect x="1253" y="410" width="1" height="131" fill="#000"/>
<rect x="1248" y="412" width="11" height="108" fill="#000"/>
<rect x="1249" y="413" width="9" height="106" fill="#00ff00"/>
<rect x="1269" y="485" width="1" height="71" fill="#000"/>
<rect x="1264" y="519" width="11" height="2" fill="#000"/>
<rect x="1285" y="509" width="1" height="20" fill="#000"/>
</g>
<rect x="4" y="437" width="1638" height="2" fill="#ff0000"/>
<rect x="4" y="435" width="6" height="6" fill="#ff0000"/>
<rect x="6" y="437" width="2" height="2" fill="#fff"/>
<rect x="1635" y="435" width="6" height="6" fill="#ff0000"/>
<rect x="1637" y="437" width="2" height="2" fill="#fff"/>
<rect x="4" y="472" width="1638" height="2" fill="#ff0000"/>
<rect x="4" y="470" width="6" height="6" fill="#ff0000"/>
<rect x="6" y="472" width="2" height="2" fill="#fff"/>
<rect x="1635" y="470" width="6" height="6" fill="#ff0000"/>
<rect x="1637" y="472" width="2" height="2" fill="#fff"/>
<rect x="4" y="503" width="1638" height="2" fill="#ffa500"/>
<rect x="4" y="501" width="6" height="6" fill="#ffa500"/>
<rect x="6" y="503" width="2" height="2" fill="#fff"/>
<rect x="1635" y="501" width="6" height="6" fill="#ffa500"/>
<rect x="1637" y="503" width="2" height="2" fill="#fff"/>
<rect x="4" y="551" width="1638" height="2" fill="#0000ff"/>
<rect x="4" y="549" width="6" height="6" fill="#0000ff"/>
<rect x="6" y="551" width="2" height="2" fill="#fff"/>
<rect x="1635" y="549" width="6" height="6" fill="#0000ff"/>
<rect x="1637" y="551" width="2" height="2" fill="#fff"/>
<rect x="4" y="583" width="1638" height="2" fill="#0000ff"/>
<rect x="4" y="581" width="6" height="6" fill="#0000ff"/>
<rect x="6" y="583" width="2" height="2" fill="#fff"/>
<rect x="1635" y="581" width="6" height="6" fill="#0000ff"/>
<rect x="1637" y="583" width="2" height="2" fill="#fff"/>
</g>
<g id="arrow"><line x1="1270.9" y1="400.8" x2="1336" y2="500.5" stroke="#4c9a2a" stroke-width="3.2"/><polygon points="1344.2,513.8 1342.4,495 1327.5,504.4" fill="#4c9a2a"/></g>
<g id="axis" shape-rendering="crispEdges">
<rect x="1642" y="40" width="2" height="1" fill="#000"/>
<rect x="1642" y="73" width="2" height="1" fill="#000"/>
<rect x="1642" y="106" width="2" height="1" fill="#000"/>
<rect x="1642" y="139" width="2" height="1" fill="#000"/>
<rect x="1642" y="172" width="2" height="1" fill="#000"/>
<rect x="1642" y="205" width="2" height="1" fill="#000"/>
<rect x="1642" y="238" width="2" height="1" fill="#000"/>
<rect x="1642" y="271" width="2" height="1" fill="#000"/>
<rect x="1642" y="304" width="2" height="1" fill="#000"/>
<rect x="1642" y="337" width="2" height="1" fill="#000"/>
<rect x="1642" y="370" width="2" height="1" fill="#000"/>
<rect x="1642" y="403" width="2" height="1" fill="#000"/>
<rect x="1642" y="436" width="2" height="1" fill="#000"/>
<rect x="1642" y="469" width="2" height="1" fill="#000"/>
<rect x="1642" y="502" width="2" height="1" fill="#000"/>
<rect x="1642" y="535" width="2" height="1" fill="#000"/>
<rect x="1642" y="568" width="2" height="1" fill="#000"/>
<rect x="1642" y="601" width="2" height="1" fill="#000"/>
</g>
<text x="1647" y="44" font-size="9.8" fill="#000" stroke="#000" stroke-width="0.3" textLength="33.2" lengthAdjust="spacingAndGlyphs" xml:space="preserve">0.96050</text>
<text x="1647" y="77" font-size="9.8" fill="#000" stroke="#000" stroke-width="0.3" textLength="33.2" lengthAdjust="spacingAndGlyphs" xml:space="preserve">0.95885</text>
<text x="1647" y="110" font-size="9.8" fill="#000" stroke="#000" stroke-width="0.3" textLength="33.2" lengthAdjust="spacingAndGlyphs" xml:space="preserve">0.95715</text>
<text x="1647" y="143" font-size="9.8" fill="#000" stroke="#000" stroke-width="0.3" textLength="33.2" lengthAdjust="spacingAndGlyphs" xml:space="preserve">0.95545</text>
<text x="1647" y="176" font-size="9.8" fill="#000" stroke="#000" stroke-width="0.3" textLength="33.2" lengthAdjust="spacingAndGlyphs" xml:space="preserve">0.95380</text>
<text x="1647" y="209" font-size="9.8" fill="#000" stroke="#000" stroke-width="0.3" textLength="33.2" lengthAdjust="spacingAndGlyphs" xml:space="preserve">0.95210</text>
<text x="1647" y="242" font-size="9.8" fill="#000" stroke="#000" stroke-width="0.3" textLength="33.2" lengthAdjust="spacingAndGlyphs" xml:space="preserve">0.95040</text>
<text x="1647" y="275" font-size="9.8" fill="#000" stroke="#000" stroke-width="0.3" textLength="33.2" lengthAdjust="spacingAndGlyphs" xml:space="preserve">0.94875</text>
<text x="1647" y="308" font-size="9.8" fill="#000" stroke="#000" stroke-width="0.3" textLength="33.2" lengthAdjust="spacingAndGlyphs" xml:space="preserve">0.94705</text>
<text x="1647" y="341" font-size="9.8" fill="#000" stroke="#000" stroke-width="0.3" textLength="33.2" lengthAdjust="spacingAndGlyphs" xml:space="preserve">0.94540</text>
<text x="1647" y="374" font-size="9.8" fill="#000" stroke="#000" stroke-width="0.3" textLength="33.2" lengthAdjust="spacingAndGlyphs" xml:space="preserve">0.94370</text>
<text x="1647" y="407" font-size="9.8" fill="#000" stroke="#000" stroke-width="0.3" textLength="33.2" lengthAdjust="spacingAndGlyphs" xml:space="preserve">0.94200</text>
<text x="1647" y="440" font-size="9.8" fill="#000" stroke="#000" stroke-width="0.3" textLength="33.2" lengthAdjust="spacingAndGlyphs" xml:space="preserve">0.94030</text>
<text x="1647" y="473" font-size="9.8" fill="#000" stroke="#000" stroke-width="0.3" textLength="33.2" lengthAdjust="spacingAndGlyphs" xml:space="preserve">0.93865</text>
<text x="1647" y="506" font-size="9.8" fill="#000" stroke="#000" stroke-width="0.3" textLength="33.2" lengthAdjust="spacingAndGlyphs" xml:space="preserve">0.93695</text>
<text x="1647" y="539" font-size="9.8" fill="#000" stroke="#000" stroke-width="0.3" textLength="33.2" lengthAdjust="spacingAndGlyphs" xml:space="preserve">0.93530</text>
<text x="1647" y="572" font-size="9.8" fill="#000" stroke="#000" stroke-width="0.3" textLength="33.2" lengthAdjust="spacingAndGlyphs" xml:space="preserve">0.93360</text>
<text x="1647" y="605" font-size="9.8" fill="#000" stroke="#000" stroke-width="0.3" textLength="33.2" lengthAdjust="spacingAndGlyphs" xml:space="preserve">0.93195</text>
<g shape-rendering="crispEdges">
<rect x="1643" y="432" width="41" height="11" fill="#ff0000"/>
<rect x="1643" y="467" width="41" height="11" fill="#ff0000"/>
<rect x="1643" y="498" width="41" height="11" fill="#ffa500"/>
<rect x="1643" y="546" width="41" height="11" fill="#0000ff"/>
<rect x="1643" y="578" width="41" height="11" fill="#0000ff"/>
<rect x="1643" y="515" width="41" height="11" fill="#000"/>
</g>
<text x="1647" y="441" font-size="9.8" fill="#fff" stroke="#fff" stroke-width="0.3" textLength="33.2" lengthAdjust="spacingAndGlyphs" xml:space="preserve">0.94024</text>
<text x="1647" y="476" font-size="9.8" fill="#fff" stroke="#fff" stroke-width="0.3" textLength="33.2" lengthAdjust="spacingAndGlyphs" xml:space="preserve">0.93846</text>
<text x="1647" y="507" font-size="9.8" fill="#fff" stroke="#fff" stroke-width="0.3" textLength="33.2" lengthAdjust="spacingAndGlyphs" xml:space="preserve">0.93689</text>
<text x="1647" y="555" font-size="9.8" fill="#fff" stroke="#fff" stroke-width="0.3" textLength="33.2" lengthAdjust="spacingAndGlyphs" xml:space="preserve">0.93444</text>
<text x="1647" y="587" font-size="9.8" fill="#fff" stroke="#fff" stroke-width="0.3" textLength="33.2" lengthAdjust="spacingAndGlyphs" xml:space="preserve">0.93282</text>
<text x="1647" y="524" font-size="9.8" fill="#fff" stroke="#fff" stroke-width="0.3" textLength="33.2" lengthAdjust="spacingAndGlyphs" xml:space="preserve">0.93604</text>
<polygon points="7.5,32 15,32 11.25,36.3" fill="#000"/>
<text x="20.3" y="37" font-size="9.8" fill="#000" stroke="#000" stroke-width="0.3" textLength="57.2" lengthAdjust="spacingAndGlyphs" xml:space="preserve">USDCHF-,H4</text>
<text x="84.1" y="37" font-size="9.8" fill="#000" stroke="#000" stroke-width="0.3" textLength="140.4" lengthAdjust="spacingAndGlyphs" xml:space="preserve">0.93608 0.93661 0.93567 0.93604</text>
<g shape-rendering="crispEdges">
<rect x="5" y="621" width="2" height="30" fill="#00ff00"/>
<rect x="20" y="614" width="3" height="37" fill="#00ff00"/>
<rect x="36" y="614" width="3" height="37" fill="#00ff00"/>
<rect x="52" y="614" width="3" height="37" fill="#00ff00"/>
<rect x="68" y="615" width="3" height="36" fill="#00ff00"/>
<rect x="84" y="620" width="3" height="31" fill="#00ff00"/>
<rect x="100" y="628" width="3" height="23" fill="#00ff00"/>
<rect x="116" y="635" width="3" height="16" fill="#00ff00"/>
<rect x="132" y="642" width="3" height="9" fill="#00ff00"/>
<rect x="148" y="647" width="3" height="4" fill="#00ff00"/>
<rect x="164" y="651" width="3" height="4" fill="#00ff00"/>
<rect x="180" y="651" width="3" height="8" fill="#00ff00"/>
<rect x="196" y="651" width="3" height="24" fill="#00ff00"/>
<rect x="212" y="651" width="3" height="38" fill="#00ff00"/>
<rect x="228" y="651" width="3" height="50" fill="#00ff00"/>
<rect x="244" y="651" width="3" height="62" fill="#00ff00"/>
<rect x="260" y="651" width="3" height="66" fill="#00ff00"/>
<rect x="276" y="651" width="3" height="68" fill="#00ff00"/>
<rect x="292" y="651" width="3" height="66" fill="#00ff00"/>
<rect x="308" y="651" width="3" height="64" fill="#00ff00"/>
<rect x="324" y="651" width="3" height="62" fill="#00ff00"/>
<rect x="340" y="651" width="3" height="58" fill="#00ff00"/>
<rect x="356" y="651" width="3" height="54" fill="#00ff00"/>
<rect x="372" y="651" width="3" height="46" fill="#00ff00"/>
<rect x="388" y="651" width="3" height="40" fill="#00ff00"/>
<rect x="404" y="651" width="3" height="39" fill="#00ff00"/>
<rect x="420" y="651" width="3" height="32" fill="#00ff00"/>
<rect x="436" y="651" width="3" height="27" fill="#00ff00"/>
<rect x="452" y="651" width="3" height="24" fill="#00ff00"/>
<rect x="468" y="651" width="3" height="28" fill="#00ff00"/>
<rect x="484" y="651" width="3" height="26" fill="#00ff00"/>
<rect x="500" y="651" width="3" height="18" fill="#00ff00"/>
<rect x="516" y="651" width="3" height="12" fill="#00ff00"/>
<rect x="532" y="651" width="3" height="10" fill="#00ff00"/>
<rect x="548" y="651" width="3" height="7" fill="#00ff00"/>
<rect x="564" y="651" width="3" height="2" fill="#00ff00"/>
<rect x="580" y="645" width="3" height="6" fill="#00ff00"/>
<rect x="596" y="636" width="3" height="15" fill="#00ff00"/>
<rect x="612" y="628" width="3" height="23" fill="#00ff00"/>
<rect x="628" y="624" width="3" height="27" fill="#00ff00"/>
<rect x="644" y="623" width="3" height="28" fill="#00ff00"/>
<rect x="660" y="626" width="3" height="25" fill="#00ff00"/>
<rect x="676" y="624" width="3" height="27" fill="#00ff00"/>
<rect x="692" y="635" width="3" height="16" fill="#00ff00"/>
<rect x="708" y="646" width="3" height="5" fill="#00ff00"/>
<rect x="724" y="651" width="3" height="6" fill="#00ff00"/>
<rect x="740" y="651" width="3" height="12" fill="#00ff00"/>
<rect x="756" y="651" width="3" height="14" fill="#00ff00"/>
<rect x="772" y="651" width="3" height="26" fill="#00ff00"/>
<rect x="788" y="651" width="3" height="39" fill="#00ff00"/>
<rect x="804" y="651" width="3" height="49" fill="#00ff00"/>
<rect x="820" y="651" width="3" height="55" fill="#00ff00"/>
<rect x="836" y="651" width="3" height="63" fill="#00ff00"/>
<rect x="852" y="651" width="3" height="71" fill="#00ff00"/>
<rect x="868" y="651" width="3" height="64" fill="#00ff00"/>
<rect x="884" y="651" width="3" height="64" fill="#00ff00"/>
<rect x="900" y="651" width="3" height="65" fill="#00ff00"/>
<rect x="916" y="651" width="3" height="68" fill="#00ff00"/>
<rect x="932" y="651" width="3" height="66" fill="#00ff00"/>
<rect x="948" y="651" width="3" height="68" fill="#00ff00"/>
<rect x="964" y="651" width="3" height="62" fill="#00ff00"/>
<rect x="980" y="651" width="3" height="49" fill="#00ff00"/>
<rect x="996" y="651" width="3" height="39" fill="#00ff00"/>
<rect x="1012" y="651" width="3" height="31" fill="#00ff00"/>
<rect x="1028" y="651" width="3" height="22" fill="#00ff00"/>
<rect x="1044" y="651" width="3" height="21" fill="#00ff00"/>
<rect x="1060" y="651" width="3" height="20" fill="#00ff00"/>
<rect x="1076" y="651" width="3" height="15" fill="#00ff00"/>
<rect x="1092" y="651" width="3" height="12" fill="#00ff00"/>
<rect x="1108" y="651" width="3" height="8" fill="#00ff00"/>
<rect x="1124" y="651" width="3" height="8" fill="#00ff00"/>
<rect x="1140" y="651" width="3" height="5" fill="#00ff00"/>
<rect x="1156" y="651" width="3" height="8" fill="#00ff00"/>
<rect x="1172" y="651" width="3" height="10" fill="#00ff00"/>
<rect x="1188" y="651" width="3" height="10" fill="#00ff00"/>
<rect x="1204" y="651" width="3" height="7" fill="#00ff00"/>
<rect x="1220" y="651" width="3" height="7" fill="#00ff00"/>
<rect x="1236" y="651" width="3" height="6" fill="#00ff00"/>
<rect x="1252" y="651" width="3" height="13" fill="#00ff00"/>
<rect x="1268" y="651" width="3" height="19" fill="#00ff00"/>
<rect x="1284" y="651" width="3" height="23" fill="#00ff00"/>
<polyline points="5.5,645 21.5,639.5 37.5,633 53.5,629.5 69.5,625.2 85.5,622.2 101.5,621 117.5,621.2 133.5,623.6 149.5,626.8 165.5,630.4 181.5,635 197.5,641.75 213.5,649.5 229.5,657.75 245.5,668.5 261.5,677 277.5,685 293.5,693 309.5,699 325.5,706 341.5,709.5 357.5,711 373.5,711 389.5,709 405.5,705 421.5,702.75 437.5,697 453.5,693.5 469.5,689.5 485.5,685.5 501.5,681 517.5,677 533.5,674.5 549.5,671.5 565.5,668 581.5,665 597.5,660 613.5,655 629.5,648.5 645.5,642.75 661.5,639 677.5,635 693.5,632.5 709.5,632.5 725.5,633.5 741.5,636.75 757.5,640.5 773.5,645 789.5,653.5 805.5,661.75 821.5,670.5 837.5,679.75 853.5,687.5 869.5,694 885.5,699 901.5,705 917.5,710 933.5,713 949.5,715.5 965.5,716 981.5,714 997.5,711 1013.5,707.5 1029.5,702.5 1045.5,697.5 1061.5,693 1077.5,686.5 1093.5,680 1109.5,674 1125.5,670 1141.5,666 1157.5,663 1173.5,662 1189.5,661 1205.5,659 1221.5,658 1237.5,657.5 1253.5,657.75 1269.5,659.5 1285.5,661" fill="none" stroke="#ff0000" stroke-width="2" stroke-linejoin="round"/>
<rect x="1642" y="608" width="1" height="1" fill="#000"/>
<rect x="1642" y="651" width="1" height="1" fill="#000"/>
<rect x="1642" y="726" width="1" height="1" fill="#000"/>
<line x1="6" y1="751.5" x2="1641" y2="751.5" stroke="#000" stroke-width="1" stroke-dasharray="3 3"/>
<line x1="6" y1="782.5" x2="1641" y2="782.5" stroke="#000" stroke-width="1" stroke-dasharray="3 3"/>
<line x1="6" y1="819.5" x2="1641" y2="819.5" stroke="#000" stroke-width="1" stroke-dasharray="3 3"/>
<rect x="1642" y="731" width="1" height="1" fill="#000"/>
<rect x="1642" y="834" width="1" height="1" fill="#000"/>
<polyline points="5.5,769.75 21.5,769.75 37.5,772.5 53.5,777 69.5,777 85.5,782 101.5,787 117.5,787 133.5,790 149.5,789 165.5,792 181.5,788.75 197.5,803 213.5,803.5 229.5,804 245.5,807 261.5,800.5 277.5,797.5 293.5,794 309.5,794 325.5,794 341.5,794 357.5,787.5 373.5,783.75 389.5,785.5 405.5,789 421.5,782.5 437.5,782.25 453.5,785 469.5,793 485.5,787 501.5,778 517.5,778 533.5,782 549.5,782 565.5,777.5 581.5,773.5 597.5,769 613.5,769 629.5,774 645.5,774 661.5,781.5 677.5,775 693.5,791 709.5,793 725.5,793 741.5,790 757.5,788 773.5,796.75 789.5,800 805.5,800 821.5,797.75 837.5,801 853.5,802 869.5,787 885.5,792 901.5,792 917.5,795 933.5,792 949.5,794 965.5,787 981.5,780 997.5,780 1013.5,780 1029.5,780 1045.5,785 1061.5,785 1077.5,781 1093.5,781 1109.5,781 1125.5,784 1141.5,781 1157.5,787 1173.5,787 1189.5,785 1205.5,782 1221.5,785 1237.5,782 1253.5,791 1269.5,791 1285.5,790.5" fill="none" stroke="#1e90ff" stroke-width="2" stroke-linejoin="round"/>
<rect x="5" y="836" width="1" height="3" fill="#000"/>
<rect x="69" y="836" width="1" height="3" fill="#000"/>
<rect x="133" y="836" width="1" height="3" fill="#000"/>
<rect x="197" y="836" width="1" height="3" fill="#000"/>
<rect x="261" y="836" width="1" height="3" fill="#000"/>
<rect x="325" y="836" width="1" height="3" fill="#000"/>
<rect x="389" y="836" width="1" height="3" fill="#000"/>
<rect x="453" y="836" width="1" height="3" fill="#000"/>
<rect x="517" y="836" width="1" height="3" fill="#000"/>
<rect x="581" y="836" width="1" height="3" fill="#000"/>
<rect x="645" y="836" width="1" height="3" fill="#000"/>
<rect x="709" y="836" width="1" height="3" fill="#000"/>
<rect x="773" y="836" width="1" height="3" fill="#000"/>
<rect x="837" y="836" width="1" height="3" fill="#000"/>
<rect x="901" y="836" width="1" height="3" fill="#000"/>
<rect x="965" y="836" width="1" height="3" fill="#000"/>
<rect x="1029" y="836" width="1" height="3" fill="#000"/>
<rect x="1093" y="836" width="1" height="3" fill="#000"/>
<rect x="1157" y="836" width="1" height="3" fill="#000"/>
<rect x="1221" y="836" width="1" height="3" fill="#000"/>
<rect x="1285" y="836" width="1" height="3" fill="#000"/>
</g>
<text x="4" y="848" font-size="9.8" fill="#000" stroke="#000" stroke-width="0.3" textLength="53.9" lengthAdjust="spacingAndGlyphs" xml:space="preserve">21 Nov 2022</text>
<text x="68" y="848" font-size="9.8" fill="#000" stroke="#000" stroke-width="0.3" textLength="57.2" lengthAdjust="spacingAndGlyphs" xml:space="preserve">22 Nov 04:00</text>
<text x="132" y="848" font-size="9.8" fill="#000" stroke="#000" stroke-width="0.3" textLength="57.2" lengthAdjust="spacingAndGlyphs" xml:space="preserve">22 Nov 20:00</text>
<text x="196" y="848" font-size="9.8" fill="#000" stroke="#000" stroke-width="0.3" textLength="57.2" lengthAdjust="spacingAndGlyphs" xml:space="preserve">23 Nov 12:00</text>
<text x="260" y="848" font-size="9.8" fill="#000" stroke="#000" stroke-width="0.3" textLength="57.2" lengthAdjust="spacingAndGlyphs" xml:space="preserve">24 Nov 04:00</text>
<text x="324" y="848" font-size="9.8" fill="#000" stroke="#000" stroke-width="0.3" textLength="57.2" lengthAdjust="spacingAndGlyphs" xml:space="preserve">24 Nov 20:00</text>
<text x="388" y="848" font-size="9.8" fill="#000" stroke="#000" stroke-width="0.3" textLength="57.2" lengthAdjust="spacingAndGlyphs" xml:space="preserve">25 Nov 12:00</text>
<text x="452" y="848" font-size="9.8" fill="#000" stroke="#000" stroke-width="0.3" textLength="57.2" lengthAdjust="spacingAndGlyphs" xml:space="preserve">28 Nov 04:00</text>
<text x="516" y="848" font-size="9.8" fill="#000" stroke="#000" stroke-width="0.3" textLength="57.2" lengthAdjust="spacingAndGlyphs" xml:space="preserve">28 Nov 20:00</text>
<text x="580" y="848" font-size="9.8" fill="#000" stroke="#000" stroke-width="0.3" textLength="57.2" lengthAdjust="spacingAndGlyphs" xml:space="preserve">29 Nov 12:00</text>
<text x="644" y="848" font-size="9.8" fill="#000" stroke="#000" stroke-width="0.3" textLength="57.2" lengthAdjust="spacingAndGlyphs" xml:space="preserve">30 Nov 04:00</text>
<text x="708" y="848" font-size="9.8" fill="#000" stroke="#000" stroke-width="0.3" textLength="57.2" lengthAdjust="spacingAndGlyphs" xml:space="preserve">30 Nov 20:00</text>
<text x="772" y="848" font-size="9.8" fill="#000" stroke="#000" stroke-width="0.3" textLength="49.3" lengthAdjust="spacingAndGlyphs" xml:space="preserve">1 Dec 12:00</text>
<text x="836" y="848" font-size="9.8" fill="#000" stroke="#000" stroke-width="0.3" textLength="49.3" lengthAdjust="spacingAndGlyphs" xml:space="preserve">2 Dec 04:00</text>
<text x="900" y="848" font-size="9.8" fill="#000" stroke="#000" stroke-width="0.3" textLength="49.3" lengthAdjust="spacingAndGlyphs" xml:space="preserve">4 Dec 23:00</text>
<text x="964" y="848" font-size="9.8" fill="#000" stroke="#000" stroke-width="0.3" textLength="49.3" lengthAdjust="spacingAndGlyphs" xml:space="preserve">5 Dec 12:00</text>
<text x="1028" y="848" font-size="9.8" fill="#000" stroke="#000" stroke-width="0.3" textLength="49.3" lengthAdjust="spacingAndGlyphs" xml:space="preserve">6 Dec 04:00</text>
<text x="1092" y="848" font-size="9.8" fill="#000" stroke="#000" stroke-width="0.3" textLength="49.3" lengthAdjust="spacingAndGlyphs" xml:space="preserve">6 Dec 20:00</text>
<text x="1156" y="848" font-size="9.8" fill="#000" stroke="#000" stroke-width="0.3" textLength="49.3" lengthAdjust="spacingAndGlyphs" xml:space="preserve">7 Dec 12:00</text>
<text x="1220" y="848" font-size="9.8" fill="#000" stroke="#000" stroke-width="0.3" textLength="49.3" lengthAdjust="spacingAndGlyphs" xml:space="preserve">8 Dec 04:00</text>
<text x="1284" y="848" font-size="9.8" fill="#000" stroke="#000" stroke-width="0.3" textLength="49.3" lengthAdjust="spacingAndGlyphs" xml:space="preserve">8 Dec 20:00</text>
<text x="9.5" y="619" font-size="9.8" fill="#000" stroke="#000" stroke-width="0.3" textLength="153.4" lengthAdjust="spacingAndGlyphs" xml:space="preserve">MACD(12,26,9) -0.001059 -0.000508</text>
<text x="9.2" y="742" font-size="9.8" fill="#000" stroke="#000" stroke-width="0.3" textLength="67.7" lengthAdjust="spacingAndGlyphs" xml:space="preserve">RSI(14) 41.3465</text>
<text x="1645" y="617" font-size="9.8" fill="#000" stroke="#000" stroke-width="0.3" textLength="38.2" lengthAdjust="spacingAndGlyphs" xml:space="preserve">0.002138</text>
<text x="1645" y="655" font-size="9.8" fill="#000" stroke="#000" stroke-width="0.3" textLength="18.1" lengthAdjust="spacingAndGlyphs" xml:space="preserve">0.00</text>
<text x="1645" y="724.2" font-size="9.8" fill="#000" stroke="#000" stroke-width="0.3" textLength="41.2" lengthAdjust="spacingAndGlyphs" xml:space="preserve">-0.003698</text>
<text x="1645.3" y="740" font-size="9.8" fill="#000" stroke="#000" stroke-width="0.3" textLength="14.7" lengthAdjust="spacingAndGlyphs" xml:space="preserve">100</text>
<text x="1644.2" y="755" font-size="9.8" fill="#000" stroke="#000" stroke-width="0.3" textLength="10.2" lengthAdjust="spacingAndGlyphs" xml:space="preserve">80</text>
<text x="1644.2" y="786" font-size="9.8" fill="#000" stroke="#000" stroke-width="0.3" textLength="10.2" lengthAdjust="spacingAndGlyphs" xml:space="preserve">50</text>
<text x="1644.6" y="823" font-size="9.8" fill="#000" stroke="#000" stroke-width="0.3" textLength="9.4" lengthAdjust="spacingAndGlyphs" xml:space="preserve">15</text>
<text x="1645" y="832" font-size="9.8" fill="#000" stroke="#000" stroke-width="0.3" textLength="4.9" lengthAdjust="spacingAndGlyphs" xml:space="preserve">0</text>
</svg>
</body></html>
